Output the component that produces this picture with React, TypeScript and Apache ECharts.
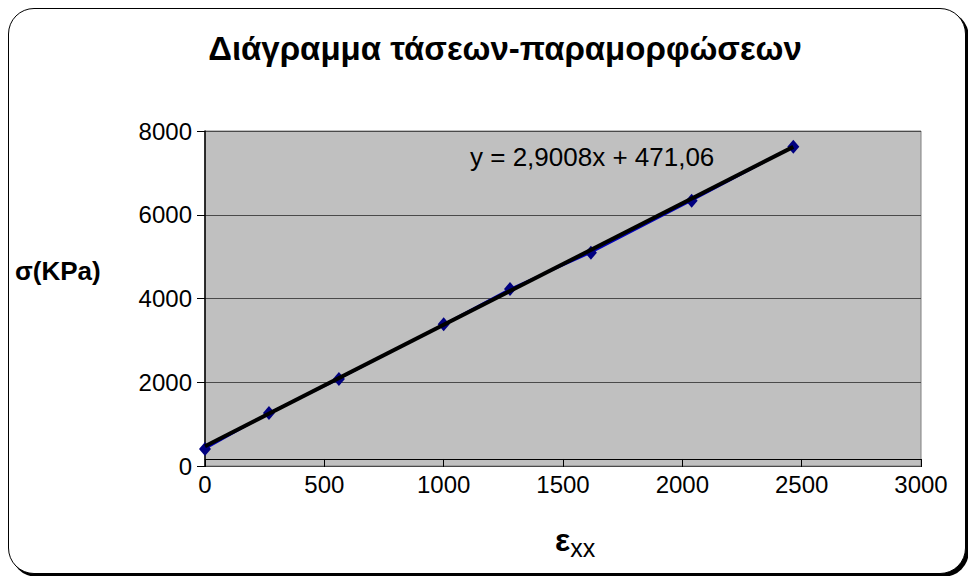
import React, { useEffect, useRef } from "react";
import * as echarts from "echarts";

// Strain (ε_xx) and stress (σ, kPa) measurements
const STRAIN = [0, 268, 561, 1000, 1278, 1617, 2039, 2465];
const STRESS = [406, 1266, 2078, 3384, 4227, 5094, 6336, 7625];

// Linear fit shown on the chart
const TREND_SLOPE = 2.9008;
const TREND_INTERCEPT = 471.06;
const TREND_LABEL = "y = 2,9008x + 471,06";

// Axis ranges
const X_MIN = 0;
const X_MAX = 3000;
const X_STEP = 500;
const Y_MIN = 0;
const Y_MAX = 8000;
const Y_STEP = 2000;
// value on the stress axis where the strain axis line crosses
const X_AXIS_CROSS = 406;

const TITLE = "Διάγραμμα τάσεων-παραμορφώσεων";
const Y_NAME = "σ(KPa)";

const FONT = "'Liberation Sans', Arial, sans-serif";

export default function App() {
  const ref = useRef<HTMLDivElement>(null);

  useEffect(() => {
    if (!ref.current) return;
    const chart = echarts.init(ref.current, null, { renderer: "svg" });

    const gridLeft = 205;
    const gridTop = 131;
    const gridRight = 47;
    const gridBottom = 110;
    const gridHeight = 576 - gridTop - gridBottom;
    const crossTop = gridTop + gridHeight * (1 - (X_AXIS_CROSS - Y_MIN) / (Y_MAX - Y_MIN));

    const points = STRAIN.map((x, i) => [x, STRESS[i]]);
    const xEnd = Math.max(...STRAIN);
    const trend = [
      [0, TREND_INTERCEPT],
      [xEnd, TREND_SLOPE * xEnd + TREND_INTERCEPT],
    ];

    const plain = (v: number) => String(v);

    chart.setOption({
      animation: false,
      textStyle: { fontFamily: FONT },
      title: {
        text: TITLE,
        left: 500,
        top: 27,
        textAlign: "center",
        textStyle: { fontFamily: FONT, fontSize: 33, fontWeight: "bold", color: "#000" },
      },
      grid: [
        {
          left: gridLeft,
          top: gridTop,
          right: gridRight,
          bottom: gridBottom,
          show: true,
          backgroundColor: "#C0C0C0",
          borderColor: "#808080",
          borderWidth: 1,
        },
        {
          left: gridLeft,
          top: crossTop,
          right: gridRight,
          height: 10,
          show: false,
        },
      ],
      xAxis: [
        {
          type: "value",
          gridIndex: 0,
          min: X_MIN,
          max: X_MAX,
          interval: X_STEP,
          axisLine: { show: false },
          axisTick: { show: false },
          splitLine: { show: false },
          axisLabel: { color: "#000", fontSize: 24, fontFamily: FONT, margin: 6, formatter: plain },
        },
        {
          type: "value",
          gridIndex: 1,
          position: "top",
          min: X_MIN,
          max: X_MAX,
          interval: X_STEP,
          axisLine: { show: true, lineStyle: { color: "#000", width: 1 } },
          axisTick: { show: true, inside: true, length: 8, lineStyle: { color: "#000", width: 1 } },
          splitLine: { show: false },
          axisLabel: { show: false },
        },
      ],
      yAxis: [
        {
          type: "value",
          gridIndex: 0,
          min: Y_MIN,
          max: Y_MAX,
          interval: Y_STEP,
          axisLine: { show: true, lineStyle: { color: "#000", width: 1.5 } },
          axisTick: { show: true, length: 8, lineStyle: { color: "#000", width: 1 } },
          splitLine: { show: true, lineStyle: { color: "#4a4a4a", width: 1 } },
          axisLabel: { color: "#000", fontSize: 24, fontFamily: FONT, margin: 13, formatter: plain },
        },
        {
          type: "value",
          gridIndex: 1,
          min: 0,
          max: 1,
          show: false,
        },
      ],
      graphic: [
        {
          type: "text",
          left: 470,
          top: 144,
          style: { text: TREND_LABEL, fontSize: 26, fontFamily: FONT, fill: "#000" },
        },
        {
          type: "text",
          left: 15,
          top: 258,
          style: { text: Y_NAME, fontSize: 26, fontWeight: "bold", fontFamily: FONT, fill: "#000" },
        },
        {
          type: "text",
          left: 555,
          top: 524,
          style: {
            text: "{e|ε}{s|xx}",
            fontFamily: FONT,
            fill: "#000",
            rich: {
              e: { fontSize: 32, fontWeight: "bold", fontFamily: FONT, fill: "#000", verticalAlign: "bottom" },
              s: { fontSize: 25, fontFamily: FONT, fill: "#000", verticalAlign: "bottom", padding: [0, 0, -4, 0] },
            },
          },
        },
      ],
      series: [
        {
          type: "line",
          xAxisIndex: 0,
          yAxisIndex: 0,
          data: points,
          symbol: "diamond",
          symbolSize: [12, 14],
          itemStyle: { color: "#000080" },
          lineStyle: { color: "#0000C0", width: 2 },
          z: 2,
        },
        {
          type: "line",
          xAxisIndex: 0,
          yAxisIndex: 0,
          data: trend,
          symbol: "none",
          lineStyle: { color: "#000", width: 4 },
          z: 3,
        },
      ],
    });

    return () => chart.dispose();
  }, []);

  return (
    <div style={{ position: "fixed", left: 0, top: 0, width: 968, height: 576, background: "#fff" }}>
      <div
        style={{
          position: "absolute",
          left: 8,
          top: 8,
          width: 956,
          height: 564,
          border: "1.5px solid #000",
          borderRadius: 26,
          boxShadow: "3px 3px 0 #000",
          background: "#fff",
        }}
      />
      <div ref={ref} style={{ position: "absolute", left: 0, top: 0, width: 968, height: 576 }} />
    </div>
  );
}
